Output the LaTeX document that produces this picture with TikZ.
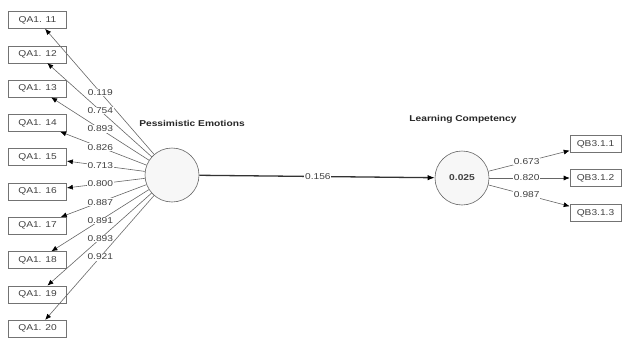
\documentclass[tikz,border=0pt]{standalone}
\usepackage{fontspec}
\setmainfont[FakeStretch=1.2]{Liberation Sans}
\usetikzlibrary{calc,arrows.meta}
\begin{document}
\begin{tikzpicture}[x=1pt,y=-1pt,
  every node/.style={font=\fontsize{8.5}{10}\selectfont, text=black!75},
  ind/.style={draw=black!55, line width=0.6pt, minimum height=17pt, inner sep=0pt},
  lbox/.style={ind, minimum width=58pt},
  rbox/.style={ind, minimum width=51pt},
  lat/.style={circle, draw=black!60, line width=0.6pt, fill=black!3, minimum size=54pt, inner sep=0pt},
  load/.style={draw=black!60, line width=0.6pt, -{Latex[length=6pt,width=5pt,color=black,fill=black]}},
  path/.style={draw=black!80, line width=1.3pt, -{Latex[length=7pt,width=5.5pt,color=black,fill=black]}},
  wlab/.style={fill=white, inner sep=0.8pt},
  title/.style={font=\fontsize{8.5}{10}\selectfont\bfseries, text=black!85}]
\useasboundingbox (0,0) rectangle (623,340);

\node[lat] (pe) at (172,175) {};
\node[lat, font=\fontsize{8.5}{10}\selectfont\bfseries] (lc) at (462,178) {0.025};
\node[title] (pet) at (192,123) {Pessimistic Emotions};
\node[title] (lct) at (463,119) {Learning Competency};

\foreach \i/\n/\v in {1/11/0.119,2/12/0.754,3/13/0.893,4/14/0.826,5/15/0.713,6/16/0.800,7/17/0.887,8/18/0.891,9/19/0.893,10/20/0.921}{
  \node[lbox] (qa\i) at (37.5,{20+(\i-1)*34.3}) {QA1. \n};
  \draw[load] (pe) -- (qa\i);
  \node[wlab] (la\i) at ($(pe.center)!0.533!(qa\i.center)$) {\v};
}

\foreach \i/\y/\v in {1/144/0.673,2/178/0.820,3/213/0.987}{
  \node[rbox] (qb\i) at (595.5,\y) {QB3.1.\i};
  \draw[load] (lc) -- (qb\i);
  \node[wlab] (lb\i) at ($(lc.center)!0.485!(qb\i.center)$) {\v};
}

\draw[path] (pe) -- (lc);
\node[wlab] (lm) at ($(pe.center)!0.503!(lc.center)$) {0.156};
\end{tikzpicture}
\end{document}
